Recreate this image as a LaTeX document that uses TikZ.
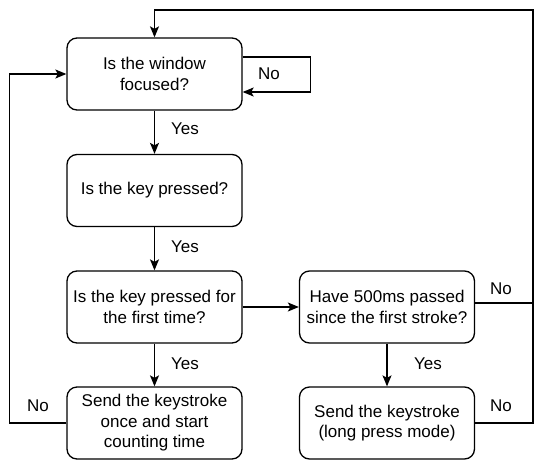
\documentclass[tikz,border=0pt]{standalone}
\usepackage{fontspec}
\setmainfont{Liberation Sans}
\usetikzlibrary{arrows.meta}
\begin{document}
\begin{tikzpicture}[x=1pt,y=-1pt,
  box/.style={draw,line width=1.3pt,rounded corners=10pt,minimum width=175pt,minimum height=72pt,align=center,inner sep=2pt,font=\fontsize{17}{20.5}\selectfont},
  lbl/.style={font=\fontsize{17}{20.5}\selectfont},
  conn/.style={line width=1.3pt},
  arr/.style={conn,-{Stealth[length=11pt,width=9pt,inset=2.5pt]}}]
\useasboundingbox (0,0) rectangle (540,471);
\node[box] (b1) at (154.5,74) {Is the window\\focused?};
\node[box] (b2) at (154.5,190.5) {Is the key pressed?};
\node[box] (b3) at (154.5,307) {Is the key pressed for\\the first time?};
\node[box] (b4) at (154.5,423) {Send the keystroke\\once and start\\counting time};
\node[box] (b5) at (387,307) {Have 500ms passed\\since the first stroke?};
\node[box] (b6) at (387,423) {Send the keystroke\\(long press mode)};
\coordinate (rj) at (533,303);
\coordinate (tr) at (533,10);
\draw[arr] ([yshift=17pt]b1.east) -- ++(68,0) |- ([yshift=-18pt]b1.east);
\draw[arr] (b1) -- (b2);
\draw[arr] (b2) -- (b3);
\draw[arr] (b3) -- (b4);
\draw[arr] (b3) -- (b5);
\draw[arr] (b5) -- (b6);
\draw[arr] ([yshift=4pt]b5.east) -- (rj) -- (tr) -| (b1.north);
\draw[conn] (b6.east) -| (rj);
\draw[arr] (b4.west) -- ++(-57,0) |- (b1.west);
\node[lbl] (n1) at (269,74) {No};
\node[lbl] (y1) at (185,129) {Yes};
\node[lbl] (y2) at (185,247) {Yes};
\node[lbl] (y3) at (185,364) {Yes};
\node[lbl] (y4) at (428,364) {Yes};
\node[lbl] (n2) at (501,289) {No};
\node[lbl] (n3) at (501,406) {No};
\node[lbl] (n4) at (38,406) {No};
\end{tikzpicture}
\end{document}
